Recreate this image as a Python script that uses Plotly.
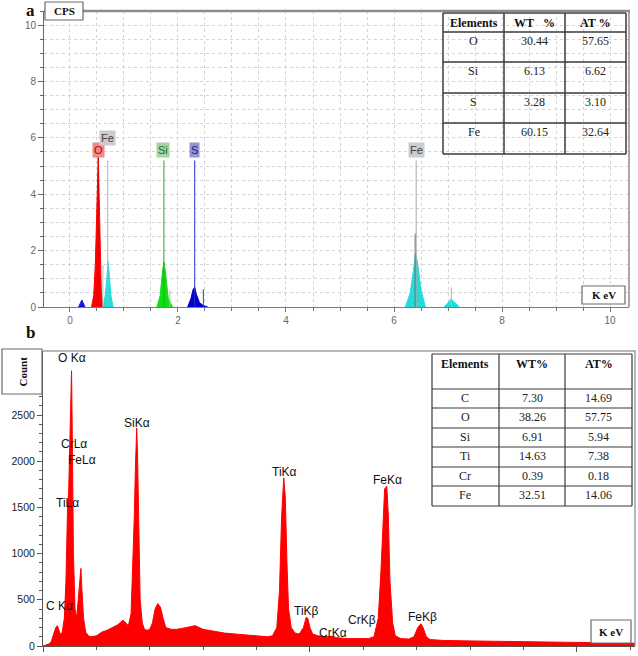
import plotly.graph_objects as go

# ---------------- DATA ----------------
# Panel a : EDS peaks (keV, CPS)
a_C_x = [0.16, 0.22, 0.28]
a_C_y = [0.0, 0.25, 0.0]
a_O_x = [0.40, 0.44, 0.47, 0.49, 0.51, 0.525, 0.54, 0.56, 0.58, 0.61]
a_O_y = [0.0, 0.4, 1.5, 2.8, 4.6, 5.35, 4.0, 2.0, 0.6, 0.0]
a_FeL_x = [0.62, 0.66, 0.69, 0.71, 0.73, 0.76, 0.80]
a_FeL_y = [0.0, 0.5, 1.2, 1.6, 1.1, 0.4, 0.0]
a_Si_x = [1.61, 1.67, 1.71, 1.74, 1.77, 1.82, 1.90]
a_Si_y = [0.0, 0.4, 1.2, 1.6, 1.2, 0.3, 0.0]
a_S_x = [2.18, 2.24, 2.28, 2.31, 2.34, 2.40, 2.47, 2.55]
a_S_y = [0.0, 0.3, 0.62, 0.7, 0.45, 0.15, 0.05, 0.0]
a_FeKa_x = [6.21, 6.30, 6.36, 6.40, 6.44, 6.50, 6.58]
a_FeKa_y = [0.0, 0.5, 1.3, 1.9, 1.5, 0.6, 0.0]
a_FeKb_x = [6.93, 7.06, 7.21]
a_FeKb_y = [0.0, 0.28, 0.0]

# Panel a : element marker lines (keV, height)
a_line_x = [0.525, 0.70, 0.61, 1.74, 1.85, 2.31, 2.47, 6.41, 6.39, 7.06]
a_line_h = [5.35, 5.2, 1.5, 5.2, 0.6, 5.2, 0.63, 5.2, 2.6, 0.7]
a_line_c = ['#e00000', '#b0b0b0', '#b8b8b8', '#3a9a3a', '#b8b8b8',
            '#2a2ad0', '#404090', '#a8a8a8', '#707070', '#b0b0b0']

# Panel a : element labels
a_lab_text = ['O', 'Fe', 'Si', 'S', 'Fe']
a_lab_x = [0.52, 0.70, 1.73, 2.31, 6.41]
a_lab_y = [5.57, 6.0, 5.57, 5.57, 5.57]
a_lab_bg = ['#f08a8a', '#cccccc', '#a4d4a4', '#9494d4', '#cccccc']
a_lab_fg = ['#c00000', '#404040', '#2a6a2a', '#202080', '#404040']

# Panel a : table
a_tab_head = ['Elements', 'WT\u00a0\u00a0\u00a0%', 'AT %']
a_tab_elem = ['O', 'Si', 'S', 'Fe']
a_tab_wt = ['30.44', '6.13', '3.28', '60.15']
a_tab_at = ['57.65', '6.62', '3.10', '32.64']

# Panel b : spectrum (keV, counts)
b_x = [0.00, 0.05, 0.10, 0.15, 0.20, 0.24, 0.27, 0.30, 0.33, 0.36, 0.40, 0.43,
       0.46, 0.48, 0.50, 0.52, 0.535, 0.55, 0.57, 0.60, 0.63, 0.66, 0.69, 0.71,
       0.73, 0.76, 0.80, 0.85, 0.90, 1.00, 1.10, 1.20, 1.30, 1.40, 1.50, 1.55,
       1.60, 1.65, 1.68, 1.71, 1.73, 1.755, 1.77, 1.79, 1.82, 1.86, 1.90, 1.95,
       2.00, 2.05, 2.10, 2.15, 2.20, 2.25, 2.30, 2.40, 2.50, 2.60, 2.70, 2.85,
       3.00, 3.20, 3.40, 3.60, 3.80, 4.00, 4.20, 4.30, 4.38, 4.43, 4.47, 4.51,
       4.54, 4.57, 4.60, 4.65, 4.72, 4.80, 4.88, 4.93, 4.96, 5.00, 5.05, 5.15,
       5.30, 5.41, 5.50, 5.70, 5.90, 6.10, 6.20, 6.28, 6.33, 6.37, 6.40, 6.44,
       6.47, 6.50, 6.55, 6.60, 6.70, 6.85, 6.95, 7.02, 7.08, 7.12, 7.18, 7.25,
       7.50, 8.00, 8.50, 9.00, 9.50, 10.00, 10.50, 11.09]
b_y = [0, 10, 20, 40, 120, 200, 220, 180, 120, 150, 300, 700,
       1500, 1650, 2200, 2750, 2980, 2200, 1000, 400, 300, 500, 780, 840,
       600, 300, 150, 110, 100, 110, 150, 170, 200, 230, 280, 250,
       220, 350, 800, 1400, 1900, 2360, 2100, 1300, 500, 250, 180, 170,
       180, 250, 400, 460, 420, 300, 200, 180, 180, 190, 200, 220,
       180, 160, 140, 130, 120, 110, 100, 110, 200, 600, 1400, 1820,
       1600, 900, 400, 200, 140, 130, 200, 310, 300, 200, 130, 110,
       100, 105, 90, 80, 80, 80, 100, 300, 800, 1400, 1700, 1730,
       1400, 700, 250, 110, 80, 75, 100, 200, 240, 200, 100, 70,
       60, 55, 50, 45, 45, 40, 35, 30]

# Panel b : peak labels
b_lab_text = ['O K\u03b1', 'CrL\u03b1', 'FeL\u03b1', 'TiL\u03b1', 'C K\u03b1', 'SiK\u03b1',
              'TiK\u03b1', 'TiK\u03b2', 'CrK\u03b1', 'CrK\u03b2', 'FeK\u03b1', 'FeK\u03b2']
b_lab_x = [0.54, 0.58, 0.73, 0.45, 0.30, 1.76, 4.53, 4.94, 5.44, 5.97, 6.45, 7.10]
b_lab_y = [3117, 2186, 2013, 1548, 433, 2413, 1883, 380, 140, 281, 1797, 314]

# Panel b : table
b_tab_head = ['Elements', 'WT%', 'AT%']
b_tab_elem = ['C', 'O', 'Si', 'Ti', 'Cr', 'Fe']
b_tab_wt = ['7.30', '38.26', '6.91', '14.63', '0.39', '32.51']
b_tab_at = ['14.69', '57.75', '5.94', '7.38', '0.18', '14.06']

# ---------------- FIGURE ----------------
W, H = 638, 656
def px(x):
    return x / W
def py(y):
    return 1 - y / H

SERIF = 'Times New Roman, Liberation Serif, serif'
SANS = 'Arial, Liberation Sans, sans-serif'

fig = go.Figure()

peaks_a = [(a_C_x, a_C_y, '#1818d8'), (a_O_x, a_O_y, '#ff0000'),
           (a_FeL_x, a_FeL_y, '#22dcdc'), (a_Si_x, a_Si_y, '#10e010'),
           (a_S_x, a_S_y, '#0000c8'), (a_FeKa_x, a_FeKa_y, '#22dcdc'),
           (a_FeKb_x, a_FeKb_y, '#22dcdc')]
for xs, ys, c in peaks_a:
    fig.add_trace(go.Scatter(x=xs, y=ys, mode='lines', fill='tozeroy',
                             line=dict(color=c, width=1), fillcolor=c,
                             xaxis='x', yaxis='y', hoverinfo='skip'))

for xv, hv, c in zip(a_line_x, a_line_h, a_line_c):
    fig.add_trace(go.Scatter(x=[xv, xv], y=[0, hv], mode='lines',
                             line=dict(color=c, width=1),
                             xaxis='x', yaxis='y', hoverinfo='skip'))

fig.add_trace(go.Scatter(x=b_x, y=b_y, mode='lines', fill='tozeroy',
                         line=dict(color='#ff0000', width=1), fillcolor='#ff0000',
                         xaxis='x2', yaxis='y2', hoverinfo='skip'))

annotations = []
shapes = []

def ptext(xp, yp, text, font, angle=0):
    annotations.append(dict(x=px(xp), y=py(yp), xref='paper', yref='paper', text=text,
                            showarrow=False, xanchor='center', yanchor='middle',
                            textangle=angle, font=font))

# panel a element labels
for t, xv, yv, bg, fg in zip(a_lab_text, a_lab_x, a_lab_y, a_lab_bg, a_lab_fg):
    annotations.append(dict(x=xv, y=yv, xref='x', yref='y', text=t, showarrow=False,
                            xanchor='center', yanchor='middle',
                            font=dict(family=SANS, size=11, color=fg),
                            bgcolor=bg, borderpad=1))

# panel b peak labels
for t, xv, yv in zip(b_lab_text, b_lab_x, b_lab_y):
    annotations.append(dict(x=xv, y=yv, xref='x2', yref='y2', text=t, showarrow=False,
                            xanchor='center', yanchor='middle',
                            font=dict(family=SANS, size=12, color='#111111')))

def add_table(xe, ye, head, cols, text_dy, head_dy, lw, lc):
    for xv in xe:
        shapes.append(dict(type='line', xref='paper', yref='paper',
                           x0=px(xv), x1=px(xv), y0=py(ye[0]), y1=py(ye[-1]),
                           line=dict(color=lc, width=lw)))
    for yv in ye:
        shapes.append(dict(type='line', xref='paper', yref='paper',
                           x0=px(xe[0]), x1=px(xe[-1]), y0=py(yv), y1=py(yv),
                           line=dict(color=lc, width=lw)))
    for j, h in enumerate(head):
        ptext((xe[j] + xe[j + 1]) / 2, ye[0] + head_dy, '<b>%s</b>' % h,
              dict(family=SERIF, size=12, color='#111'))
    for j, col in enumerate(cols):
        for i, v in enumerate(col):
            ptext((xe[j] + xe[j + 1]) / 2, ye[i + 1] + text_dy, v,
                  dict(family=SERIF, size=12, color='#222'))

add_table([443, 504, 565, 626], [13, 32, 62, 93, 123, 154], a_tab_head,
          [a_tab_elem, a_tab_wt, a_tab_at], 9, 9.5, 1.5, '#3a3a3a')
add_table([432, 499, 565, 632], [354, 389, 408, 428, 447, 467, 486, 506], b_tab_head,
          [b_tab_elem, b_tab_wt, b_tab_at], 9, 10, 1.2, '#3a3a3a')

# frames
shapes.append(dict(type='line', xref='paper', yref='paper', x0=px(44), x1=px(630),
                   y0=py(11), y1=py(11), line=dict(color='#8c8c8c', width=2.5)))
shapes.append(dict(type='line', xref='paper', yref='paper', x0=px(629), x1=px(629),
                   y0=py(11), y1=py(307), line=dict(color='#8c8c8c', width=1.5)))
shapes.append(dict(type='line', xref='paper', yref='paper', x0=px(43), x1=px(636),
                   y0=py(351), y1=py(351), line=dict(color='#a0a0a0', width=1.5)))
shapes.append(dict(type='line', xref='paper', yref='paper', x0=px(635), x1=px(635),
                   y0=py(351), y1=py(646), line=dict(color='#a0a0a0', width=1.5)))

# boxes: CPS, K eV (a), Count, K eV (b)
boxes = [((45, 2, 83, 20), 'CPS', 0), ((582, 286, 625, 304), 'K eV', 0),
         ((2, 349, 42, 394), 'Count', -90), ((591, 620, 631, 643), 'K eV', 0)]
for (x0, y0, x1, y1), t, ang in boxes:
    shapes.append(dict(type='rect', xref='paper', yref='paper',
                       x0=px(x0), x1=px(x1), y0=py(y0), y1=py(y1),
                       line=dict(color='#6a6a6a', width=1.2), fillcolor='white'))
    ptext((x0 + x1) / 2, (y0 + y1) / 2, '<b>%s</b>' % t,
          dict(family=SERIF, size=11, color='#111'), ang)

# panel letters
ptext(30, 10, '<b>a</b>', dict(family=SERIF, size=17, color='#111'))
ptext(30, 333, '<b>b</b>', dict(family=SERIF, size=17, color='#111'))

grid_a = dict(showgrid=True, gridcolor='#d4d4d4', griddash='dot', gridwidth=1)

fig.update_layout(
    width=W, height=H, margin=dict(l=0, r=0, t=0, b=0, autoexpand=False),
    paper_bgcolor='white', plot_bgcolor='white', showlegend=False,
    xaxis=dict(domain=[px(44), px(629)], anchor='y', range=[-0.48, 10.35],
               automargin=False,
               tickvals=[0, 2, 4, 6, 8, 10], ticks='outside', ticklen=4,
               tickcolor='#777', showline=True, linecolor='#7a7a7a', linewidth=1,
               tickfont=dict(family=SANS, size=10, color='#666'), zeroline=False,
               minor=dict(dtick=0.5, ticks='outside', ticklen=3, tickcolor='#777', **grid_a),
               **grid_a),
    yaxis=dict(domain=[py(307), py(11)], anchor='x', range=[0, 10.5],
               automargin=False,
               tickvals=[0, 2, 4, 6, 8, 10], ticks='outside', ticklen=5,
               tickcolor='#666', showline=True, linecolor='#666', linewidth=1,
               tickfont=dict(family=SANS, size=10, color='#666'), zeroline=False,
               minor=dict(dtick=0.5, ticks='outside', ticklen=3, tickcolor='#666', **grid_a),
               **grid_a),
    xaxis2=dict(domain=[px(43), px(635)], anchor='y2', range=[0, 11.09],
                automargin=False,
                tickvals=[0, 5, 10], ticks='outside', ticklen=5, tickcolor='#555',
                showline=True, linecolor='#555', linewidth=1, showgrid=False,
                zeroline=False, tickfont=dict(family=SANS, size=10, color='#333'),
                minor=dict(dtick=1, ticks='outside', ticklen=3, tickcolor='#555')),
    yaxis2=dict(domain=[py(646), py(351)], anchor='x2', range=[0, 3193],
                automargin=False,
                tickvals=[0, 500, 1000, 1500, 2000, 2500], ticks='outside', ticklen=5,
                tickcolor='#555', showline=True, linecolor='#555', linewidth=1,
                showgrid=False, zeroline=False,
                tickfont=dict(family=SANS, size=10.5, color='#222'),
                minor=dict(dtick=100, ticks='outside', ticklen=3, tickcolor='#555')),
    annotations=annotations, shapes=shapes,
)

fig.write_html('out.html', config={'displayModeBar': False},
               post_script="document.body.style.margin='0';document.body.style.overflow='hidden';")
